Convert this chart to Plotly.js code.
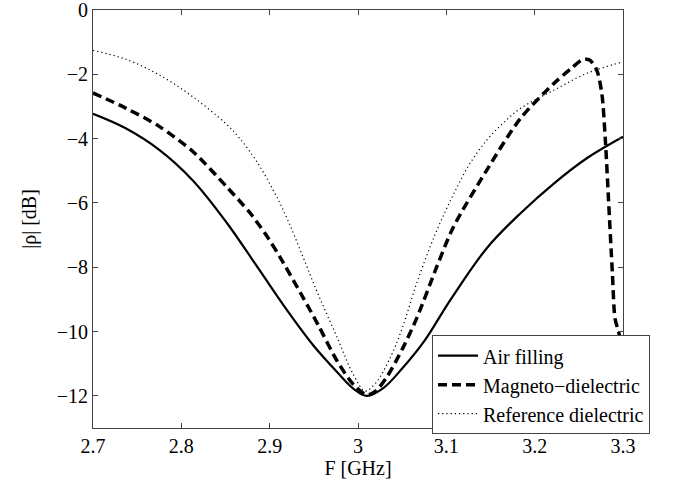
<!DOCTYPE html>
<html>
<head>
<meta charset="utf-8">
<script src="https://cdn.plot.ly/plotly-3.0.1.min.js"></script>
<style>
html,body{margin:0;padding:0;background:#fff;font-family:'Liberation Serif',serif;}
#chart{width:685px;height:491px;position:relative;}
#chart text{font-family:'Liberation Serif',serif !important;}
#prime{position:absolute;left:100px;top:200px;color:#fff;font-family:'Liberation Serif';font-size:20px;white-space:nowrap;z-index:-1;}
</style>
</head>
<body>
<div id="prime">Air filling Magneto−dielectric Reference 0123456789 F [GHz] |ρ| [dB]</div>
<div id="chart"></div>
<script>
// Air filling (solid)
const airF = [2.700, 2.737, 2.775, 2.813, 2.851, 2.887, 2.920, 2.950, 2.976, 2.995, 3.010, 3.029, 3.050, 3.075, 3.105, 3.146, 3.184, 3.222, 3.259, 3.300];
const airR = [-3.23, -3.68, -4.35, -5.30, -6.60, -8.03, -9.35, -10.45, -11.25, -11.78, -12.0, -11.75, -11.15, -10.3, -9.0, -7.4, -6.32, -5.39, -4.61, -3.94];

// Magneto-dielectric (dashed)
const magF = [2.700, 2.737, 2.775, 2.813, 2.851, 2.878, 2.896, 2.912, 2.938, 2.955, 2.976, 2.995, 3.010, 3.020, 3.033, 3.051, 3.067, 3.089, 3.108, 3.146, 3.184, 3.222, 3.240, 3.254, 3.262, 3.270, 3.276, 3.280, 3.284, 3.288, 3.291, 3.295, 3.297, 3.298];
const magR = [-2.58, -3.05, -3.62, -4.40, -5.49, -6.32, -7.0, -7.7, -8.95, -9.8, -10.9, -11.65, -11.97, -11.85, -11.4, -10.5, -9.55, -8.0, -6.75, -4.97, -3.37, -2.28, -1.85, -1.55, -1.55, -1.85, -2.59, -4.04, -6.11, -8.19, -9.6, -10.0, -10.3, -14];

// Reference dielectric (dotted)
const refF = [2.700, 2.737, 2.775, 2.813, 2.851, 2.866, 2.885, 2.904, 2.920, 2.938, 2.955, 2.976, 2.995, 3.008, 3.020, 3.035, 3.050, 3.067, 3.087, 3.106, 3.125, 3.146, 3.165, 3.184, 3.222, 3.259, 3.300];
const refR = [-1.26, -1.53, -2.02, -2.7, -3.55, -3.99, -4.7, -5.6, -6.5, -7.7, -8.85, -10.16, -11.35, -11.85, -11.6, -10.9, -9.9, -8.45, -7.0, -5.85, -4.85, -4.04, -3.5, -3.06, -2.49, -1.97, -1.61];

const names = ["Air filling", "Magneto\u2212dielectric", "Reference dielectric"];
const xTicks = [2.7, 2.8, 2.9, 3, 3.1, 3.2, 3.3];
const xTickText = ["2.7", "2.8", "2.9", "3", "3.1", "3.2", "3.3"];
const yTicks = [0, -2, -4, -6, -8, -10, -12];
const yTickText = ["0", "\u22122", "\u22124", "\u22126", "\u22128", "\u221210", "\u221212"];

const FAMILY = "Liberation Serif";

void document.getElementById("prime").offsetWidth;

function makeTraces() {
  return [
    {x: airF, y: airR, name: names[0], mode: "lines", line: {color: "#000", width: 2.2, shape: "spline", smoothing: 1}},
    {x: magF, y: magR, name: names[1], mode: "lines", line: {color: "#000", width: 3.5, dash: "9px,5px", shape: "spline", smoothing: 0.8}},
    {x: refF, y: refR, name: names[2], mode: "lines", line: {color: "#000", width: 1.2, dash: "1.2px,3px", shape: "spline", smoothing: 1}}
  ];
}

function axisBase() {
  return {
    showline: true, linecolor: "#444", linewidth: 1, mirror: "ticks",
    ticks: "inside", ticklen: 5, tickcolor: "#444", tickwidth: 1,
    showgrid: false, zeroline: false, ticklabeloverflow: "allow",
    tickfont: {family: FAMILY, size: 20, color: "#000"}
  };
}

function makeLayout() {
  const xaxis = axisBase();
  xaxis.range = [2.7, 3.3];
  xaxis.tickvals = xTicks;
  xaxis.ticktext = xTickText;
  xaxis.title = {text: "F [GHz]", standoff: 4, font: {family: FAMILY, size: 20, color: "#000"}};

  const yaxis = axisBase();
  yaxis.range = [-13, 0];
  yaxis.tickvals = yTicks;
  yaxis.ticktext = yTickText;
  yaxis.title = {text: "|\u03c1| [dB]", standoff: 14, font: {family: FAMILY, size: 20, color: "#000"}};

  return {
    width: 685, height: 491,
    margin: {l: 93, r: 62, t: 10, b: 63},
    paper_bgcolor: "rgba(0,0,0,0)", plot_bgcolor: "rgba(0,0,0,0)",
    font: {family: FAMILY, size: 20, color: "#000"},
    showlegend: true,
    legend: {
      x: 0.6396, y: 0.222, xanchor: "left", yanchor: "top",
      bgcolor: "#fff", bordercolor: "#444", borderwidth: 1, tracegroupgap: 0,
      itemwidth: 40,
      font: {family: FAMILY, size: 20, color: "#000"}
    },
    xaxis: xaxis,
    yaxis: yaxis
  };
}

const cfg = {displayModeBar: false, staticPlot: true};
function draw() { Plotly.newPlot("chart", makeTraces(), makeLayout(), cfg); }
draw();
setTimeout(draw, 150);
setTimeout(draw, 500);
</script>
</body>
</html>
